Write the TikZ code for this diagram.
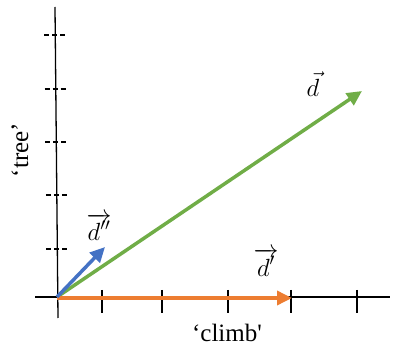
\documentclass[tikz,border=0pt]{standalone}
\usepackage{fontspec}
\setmainfont{Liberation Serif}
\usetikzlibrary{arrows.meta}
\definecolor{vgreen}{HTML}{70AD47}
\definecolor{vorange}{HTML}{ED7D31}
\definecolor{vblue}{HTML}{4472C4}
\tikzset{
  axis/.style={line width=1.3pt, black},
  xtick/.style={line width=1.6pt, black},
  ytick/.style={line width=1.3pt, black, dash pattern=on 5pt off 3pt},
  vec/.style={line width=3.5pt, -{Triangle[length=15pt,width=14pt]}},
  lbl/.style={font=\fontsize{25}{28}\selectfont, inner sep=0pt},
  mlbl/.style={font=\fontsize{27}{30}\selectfont, inner sep=0pt},
}
\begin{document}
\begin{tikzpicture}[x=1pt,y=-1pt]
\useasboundingbox (0,0) rectangle (400,353);
% axes
\coordinate (O) at (57,297);
\coordinate (yt) at (55,7);
\coordinate (yb) at (58,318);
\coordinate (xl) at (35,297);
\coordinate (xr) at (390,297);
\draw[axis] (yb) -- (yt);
\draw[axis] (xl) -- (xr);
% x ticks
\foreach \x in {102,162,228,291,357}{
  \draw[xtick] (\x,290) -- (\x,313);
}
% y ticks (dashed)
\foreach \y/\c in {35/55.2,89/55.7,142/56.3,195/56.8,249/57.4}{
  \draw[ytick] (\c-11,\y) -- (\c+12,\y);
}
% vectors
\coordinate (dt) at (362,91);
\coordinate (dpt) at (292,298);
\coordinate (dppt) at (105,247);
\draw[vec, vgreen] (O) -- (dt);
\draw[vec, vorange] (57,298) -- (dpt);
\draw[vec, vblue] (O) -- (dppt);
% labels
\node[mlbl] (ld) at (313,84) {$\vec{d}$};
\node[mlbl] (ldp) at (266,262) {$\overrightarrow{d'}$};
\node[mlbl] (ldpp) at (99,227) {$\overrightarrow{d''}$};
\node[lbl, rotate=90] (ltree) at (20,150) {‘tree’};
\node[lbl] (lclimb) at (227,333) {‘climb\textquotesingle};
\end{tikzpicture}
\end{document}
